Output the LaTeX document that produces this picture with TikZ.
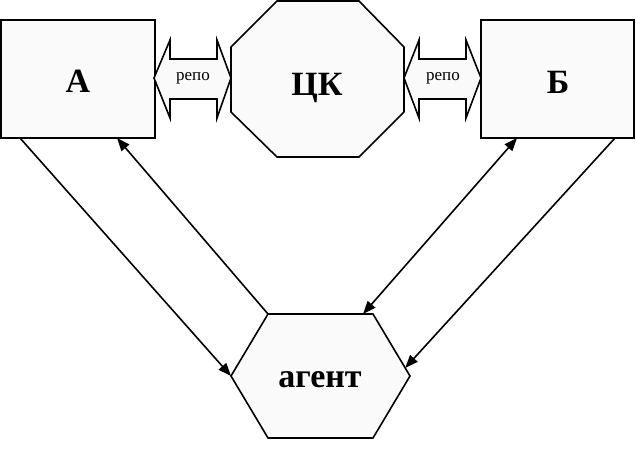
\documentclass[tikz,border=0pt]{standalone}
\usepackage{fontspec}
\setmainfont{Liberation Serif}
\usetikzlibrary{arrows.meta,calc}
\tikzset{
  shapeline/.style={draw=black, line width=1.6pt, line join=miter, fill=black!2},
  box/.style={shapeline, rectangle, inner sep=0pt, outer sep=0pt},
  biglabel/.style={font=\fontsize{34}{38}\selectfont\bfseries, inner sep=0pt, anchor=base},
  smalllabel/.style={font=\fontsize{17}{20}\selectfont, inner sep=0pt, anchor=base},
  conn/.style={line width=1.6pt, -{Triangle[length=13pt,width=10pt]}},
  dconn/.style={line width=1.6pt, {Triangle[length=13pt,width=10pt]}-{Triangle[length=13pt,width=10pt]}}
}
\begin{document}
\begin{tikzpicture}[x=1pt,y=-1pt]
\useasboundingbox (0,0) rectangle (636,451);
% boxes
\node[box, minimum width=154pt, minimum height=118pt] (A) at (78,79) {};
\node[box, minimum width=153pt, minimum height=118pt] (B) at (557.5,79) {};
\node[biglabel] (Alab) at (78,92) {А};
\node[biglabel] (Blab) at (558,93) {Б};
% octagon
\coordinate (o1) at (277,1);
\coordinate (o2) at (359,1);
\coordinate (o3) at (404,47);
\coordinate (o4) at (404,112);
\coordinate (o5) at (359,157);
\coordinate (o6) at (277,157);
\coordinate (o7) at (231,112);
\coordinate (o8) at (231,47);
\draw[shapeline] (o1) -- (o2) -- (o3) -- (o4) -- (o5) -- (o6) -- (o7) -- (o8) -- cycle;
\node[biglabel] (ck) at (317,95) {ЦК};
% hexagon
\coordinate (h1) at (268,314);
\coordinate (h2) at (373,314);
\coordinate (h3) at (410,376);
\coordinate (h4) at (373,438);
\coordinate (h5) at (268,438);
\coordinate (h6) at (231,376);
\draw[shapeline] (h1) -- (h2) -- (h3) -- (h4) -- (h5) -- (h6) -- cycle;
\node[biglabel] (ag) at (320,387) {агент};
% double block arrows
\draw[shapeline] (154,78) -- (170,40) -- (170,59) -- (217,59) -- (217,40) -- (231,78)
  -- (217,118) -- (217,99) -- (170,99) -- (170,118) -- cycle;
\draw[shapeline] (404,78) -- (419,40) -- (419,59) -- (466,59) -- (466,40) -- (481,78)
  -- (466,118) -- (466,99) -- (419,99) -- (419,118) -- cycle;
\node[smalllabel] (r1) at (193,80) {репо};
\node[smalllabel] (r2) at (443,80) {репо};
% connectors
\coordinate (a1) at ([xshift=19pt]A.south west);
\coordinate (a2) at ([xshift=116pt]A.south west);
\coordinate (b1) at ([xshift=36pt]B.south west);
\coordinate (b2) at ([xshift=134pt]B.south west);
\coordinate (h2a) at (363,314);
\coordinate (h3a) at ($(h2)!0.87!(h3)$);
\draw[conn] (a1) -- (h6);
\draw[conn] (h1) -- (a2);
\draw[dconn] (h2a) -- (b1);
\draw[conn] (b2) -- (h3a);
\end{tikzpicture}
\end{document}
